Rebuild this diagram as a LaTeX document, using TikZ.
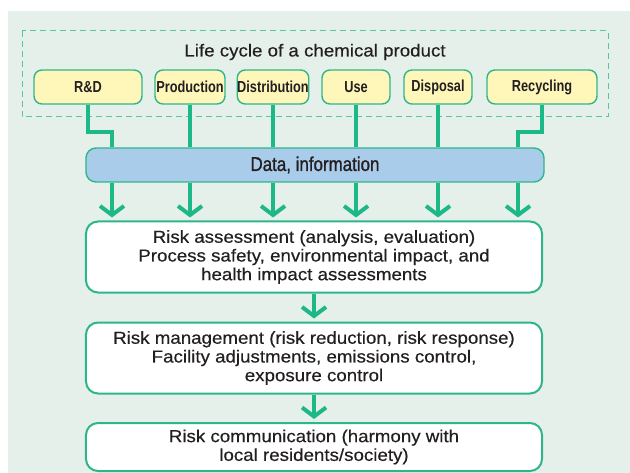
\documentclass[tikz,border=0pt]{standalone}
\usepackage{fontspec}
\setmainfont{Liberation Sans}
\newfontfamily\condfont[FakeStretch=0.8]{Liberation Sans}
\newfontfamily\bodyfont[FakeStretch=1.08,FakeBold=0.4]{Liberation Sans}
\newfontfamily\datafont[FakeStretch=0.85,FakeBold=1.1]{Liberation Sans}
\usetikzlibrary{arrows.meta}
\definecolor{panel}{HTML}{E6F0EA}
\definecolor{gline}{HTML}{1DB887}
\definecolor{gborder}{HTML}{2DB68C}
\definecolor{ybox}{HTML}{FFF7BA}
\definecolor{bbox}{HTML}{AACCEB}
\definecolor{txt}{HTML}{231F20}
\tikzset{
  stage/.style={draw=gborder, line width=1.4bp, fill=ybox, rounded corners=8bp,
    minimum height=34bp, inner sep=0pt, text=txt, font=\condfont\bfseries\fontsize{16}{18}\selectfont},
  bigbox/.style={draw=gborder, line width=2bp, fill=white, rounded corners=12bp,
    minimum width=456bp, inner sep=0pt, text=txt, align=center,
    font=\bodyfont\fontsize{17.4}{18.8}\selectfont},
  conn/.style={draw=gline, line width=4bp},
  arr/.style={draw=gline, line width=4bp, -{Straight Barb[length=9bp,width=24bp]}, shorten >=3bp},
}
\begin{document}
\begin{tikzpicture}[x=1bp,y=-1bp]
\useasboundingbox (0,0) rectangle (630,473);
\fill[panel] (8,11) rectangle (630,473);
\draw[gborder!80, line width=1bp, dash pattern=on 6bp off 4bp] (22,31) rectangle (608,117);
\node[text=txt, font=\bodyfont\fontsize{17.4}{19}\selectfont] (title) at (315,52) {Life cycle of a chemical product};
\node[stage, minimum width=108bp] (rd) at (88,87) {R\&D};
\node[stage, minimum width=70bp] (prod) at (190,87) {Production};
\node[stage, minimum width=68bp] (dist) at (273,87) {Distribution};
\node[stage, minimum width=68bp] (use) at (356,87) {Use};
\node[stage, minimum width=68bp] (disp) at (438,87) {Disposal};
\node[stage, minimum width=110bp] (rec) at (542,87) {Recycling};
\node[draw=gborder, line width=1.4bp, fill=bbox, rounded corners=10bp, minimum width=458bp,
  minimum height=34bp, inner sep=0pt, text=txt, font=\datafont\fontsize{20}{22}\selectfont] (data) at (315,165) {Data, information};
\coordinate (eL) at (112,132);
\coordinate (eR) at (518,132);
\draw[conn] (rd.south) |- (eL) -- (eL |- data.north);
\draw[conn] (rec.south) |- (eR) -- (eR |- data.north);
\foreach \n in {prod,dist,use,disp}
  \draw[conn] (\n.south) -- (\n.south |- data.north);
\node[bigbox, minimum height=71bp] (ra) at (314,257) {Risk assessment (analysis, evaluation)\\Process safety, environmental impact, and\\health impact assessments};
\node[bigbox, minimum height=71bp] (rm) at (314,358) {Risk management (risk reduction, risk response)\\Facility adjustments, emissions control,\\exposure control};
\node[bigbox, minimum height=48bp] (rc) at (314,447) {Risk communication (harmony with\\local residents/society)};
\draw[arr] (eL |- data.south) -- (eL |- ra.north);
\draw[arr] (eR |- data.south) -- (eR |- ra.north);
\foreach \n in {prod,dist,use,disp}
  \draw[arr] (\n.south |- data.south) -- (\n.south |- ra.north);
\draw[arr] (ra.south) -- (rm.north);
\draw[arr] (rm.south) -- (rc.north);
\end{tikzpicture}
\end{document}
